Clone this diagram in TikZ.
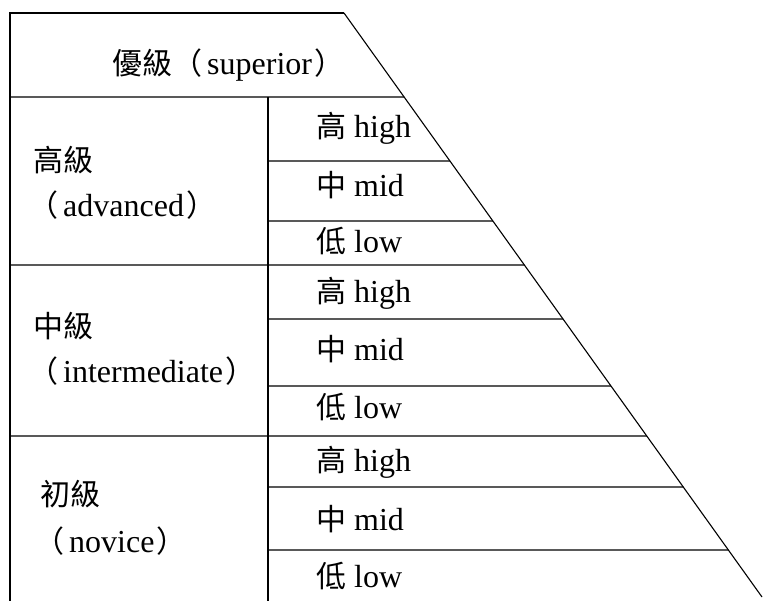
\documentclass[tikz,border=0pt]{standalone}
\usepackage{fontspec}
\setmainfont{Liberation Serif}
\newfontfamily\cjk{Noto Sans CJK TC}
\usetikzlibrary{calc}
\newcommand\zh[1]{{\cjk\fontsize{30}{36}\selectfont #1}}
\newcommand\lp{\zh{（}\hspace{5pt}}
\newcommand\rp{\hspace{2pt}\zh{）}}
\begin{document}
\begin{tikzpicture}[x=1pt,y=-1pt,
  lbl/.style={anchor=base west, inner sep=0pt, font=\fontsize{32}{38}\selectfont},
  frame/.style={line width=1.4pt},
  slope/.style={line width=1.1pt}]
\useasboundingbox (0,0) rectangle (763,601);
\coordinate (D1) at (344,13);
\coordinate (D2) at (762,597);
\coordinate (TL) at (10,13);
\coordinate (BL) at (10,601);
\coordinate (IT) at (268,97);
\coordinate (IB) at (268,601);
\draw[frame] (BL) -- (TL) -- (D1);
\draw[slope] (D1) -- (D2);
\draw[frame] (IT) -- (IB);
\foreach \y/\x/\n in {97/10/ra, 161/268/rb, 221/268/rc, 265/10/rd, 319/268/re, 386/268/rf, 436/10/rg, 487/268/rh, 550/268/ri}{
  \coordinate (\n L) at (\x,\y);
  \coordinate (\n R) at ($(D1)!{(\y-13)/584}!(D2)$);
  \draw[frame] (\n L) -- (\n R);
}
\node[lbl] (sup) at (112,75) {\zh{優級}\lp superior\rp};
\node[lbl] (advA) at (33,172) {\zh{高級}};
\node[lbl] (advB) at (28,217) {\lp advanced\rp};
\node[lbl] (intA) at (33,338) {\zh{中級}};
\node[lbl] (intB) at (28,383) {\lp intermediate\rp};
\node[lbl] (novA) at (40,505) {\zh{初級}};
\node[lbl] (novB) at (34,552) {\lp novice\rp};
\node[lbl] (aH) at (316,138) {\zh{高} high};
\node[lbl] (aM) at (316,197) {\zh{中} mid};
\node[lbl] (aL) at (316,253) {\zh{低} low};
\node[lbl] (iH) at (316,303) {\zh{高} high};
\node[lbl] (iM) at (316,361) {\zh{中} mid};
\node[lbl] (iL) at (316,418) {\zh{低} low};
\node[lbl] (nH) at (316,471) {\zh{高} high};
\node[lbl] (nM) at (316,530) {\zh{中} mid};
\node[lbl] (nL) at (316,587) {\zh{低} low};
\end{tikzpicture}
\end{document}
